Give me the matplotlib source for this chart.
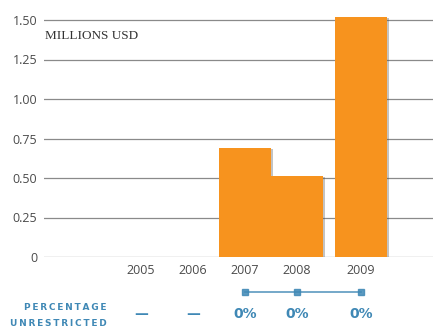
import matplotlib.pyplot as plt
import matplotlib.patheffects as pe
import numpy as np

# data
years = ["2005", "2006", "2007", "2008", "2009"]
values = [0.0, 0.0, 0.69, 0.51, 1.52]
pct_labels = ["—", "—", "0%", "0%", "0%"]
pct_has_line = [False, False, True, True, True]
y_ticks = [0, 0.25, 0.50, 0.75, 1.00, 1.25, 1.50]
y_tick_labels = ["0", "0.25", "0.50", "0.75", "1.00", "1.25", "1.50"]

# layout (2009 sits a bit apart from the rest)
x_pos = np.array([0, 1, 2, 3, 4.23])

orange = "#F7931E"
blue = "#3F88B5"
grid_c = "#8a8a8a"
text_c = "#4a4a4a"

W, H = 433, 336
fig = plt.figure(figsize=(W / 100, H / 100), dpi=100)

# main axes, placed in pixel terms
ax_left, ax_right = 44, 433
ax_bottom = H - 257
ymax = 1.56
px_per_unit = 237 / 1.5
ax_h = ymax * px_per_unit
ax = fig.add_axes([ax_left / W, ax_bottom / H, (ax_right - ax_left) / W, ax_h / H])

bars = ax.bar(x_pos, values, width=1.0, color=orange, zorder=3, linewidth=0)
for b in bars:
    b.set_path_effects([pe.SimplePatchShadow(offset=(1.5, -0.5), shadow_rgbFace="#555555", alpha=0.35),
                        pe.Normal()])

for t in y_ticks:
    ax.axhline(t, color=grid_c, linewidth=0.9, zorder=1)

xmin = (ax_left - 141) / 52
xmax = (ax_right - 141) / 52
ax.set_xlim(xmin, xmax)
ax.set_ylim(0, ymax)
ax.set_xticks(x_pos)
ax.set_xticklabels(years, fontfamily="Open Sans", fontsize=9, color=text_c)
ax.set_yticks(y_ticks)
ax.set_yticklabels(y_tick_labels, fontfamily="Open Sans", fontsize=9, color=text_c)
ax.tick_params(axis="both", length=0)
ax.tick_params(axis="x", pad=5)
ax.tick_params(axis="y", pad=5)
for s in ax.spines.values():
    s.set_visible(False)
ax.patch.set_alpha(0)

ax.text(0.002, 1.40, "MILLIONS USD", transform=ax.get_yaxis_transform(),
        fontfamily="Liberation Serif", fontsize=9.5, color="#333333", va="center", ha="left")

# bottom row: percentage unrestricted
ax2 = fig.add_axes([ax_left / W, 8 / H, (ax_right - ax_left) / W, 40 / H])
ax2.set_xlim(xmin, xmax)
ax2.set_ylim(0, 40)
ax2.axis("off")

lx = x_pos[np.array(pct_has_line)]
ax2.plot(lx, [36] * len(lx), color=blue, linewidth=1.2, marker="s", markersize=5, alpha=0.85)
for xp, lab in zip(x_pos, pct_labels):
    ax2.text(xp, 14, lab, ha="center", va="center", color=blue, fontsize=10,
             fontweight="bold", fontfamily="DejaVu Sans")

thin = "\u2009"
fig.text(107 / W, (H - 307) / H, thin.join("PERCENTAGE"), ha="right", va="center",
         color=blue, fontsize=6.5, fontweight="bold", fontfamily="DejaVu Sans")
fig.text(107 / W, (H - 323) / H, thin.join("UNRESTRICTED"), ha="right", va="center",
         color=blue, fontsize=6.5, fontweight="bold", fontfamily="DejaVu Sans")

fig.savefig("out.png", dpi=100)
